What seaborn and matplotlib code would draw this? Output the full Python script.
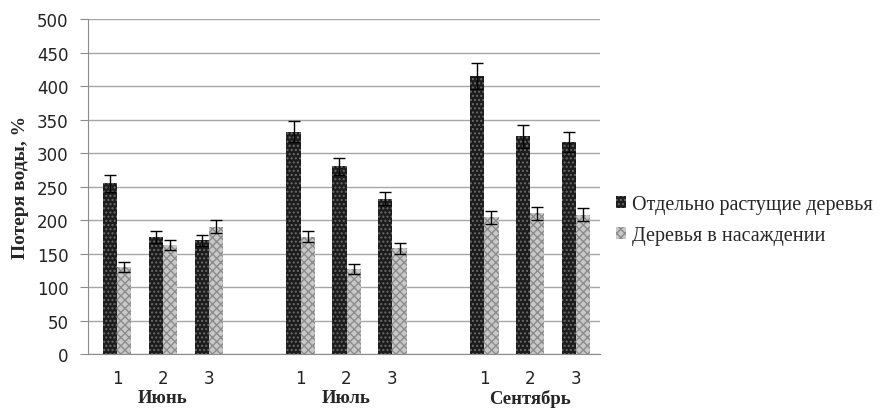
import pandas as pd
import seaborn as sns
import matplotlib.pyplot as plt
from matplotlib.transforms import blended_transform_factory

months = ["Июнь", "Июль", "Сентябрь"]
plots = ["1", "2", "3"]
series = ["Отдельно растущие деревья", "Деревья в насаждении"]

# values, month by month, plots 1-3
single_vals = [255, 175, 170, 332, 280, 232, 415, 325, 316]
single_err = [13, 9, 8, 16, 13, 10, 20, 17, 15]
stand_vals = [130, 163, 190, 175, 127, 158, 204, 210, 208]
stand_err = [7, 7, 10, 8, 8, 8, 10, 10, 10]

rows = []
for i, m in enumerate(months):
    for j, p in enumerate(plots):
        k = i * 3 + j
        rows.append([m + " " + p, series[0], single_vals[k], single_err[k]])
        rows.append([m + " " + p, series[1], stand_vals[k], stand_err[k]])
df = pd.DataFrame(rows, columns=["slot", "series", "value", "err"])

# empty slot between months
order = []
for i, m in enumerate(months):
    order += [m + " " + p for p in plots]
    if i < len(months) - 1:
        order.append("gap" + str(i))

sns.set_style("white")
plt.rcParams["font.family"] = ["DejaVu Sans"]
plt.rcParams["hatch.linewidth"] = 1.0

fig = plt.figure(figsize=(8.81, 4.10), dpi=100)
ax = fig.add_axes([0.1, 0.134, 0.581, 0.817])

sns.barplot(data=df, x="slot", y="value", hue="series", order=order,
            hue_order=series, width=0.62, gap=0, ax=ax, errorbar=None,
            palette=["#1c1c1c", "#c8c8c8"], saturation=1, legend=True)

hatches = ["....", "xxxx"]
hatch_cols = ["#6a6a6a", "#8c8c8c"]
for cont, h, hc in zip(ax.containers, hatches, hatch_cols):
    for bar in cont:
        bar.set_hatch(h)
        bar.set_edgecolor(hc)
        bar.set_linewidth(0)

# error bars on the drawn bars
labels = [o for o in order if not o.startswith("gap")]
for cont, s in zip(ax.containers, series):
    sub = df[df["series"] == s].set_index("slot")
    xs, ys, es = [], [], []
    for bar, lab in zip(cont, labels):
        xs.append(bar.get_x() + bar.get_width() / 2)
        ys.append(bar.get_height())
        es.append(sub.loc[lab, "err"])
    ax.errorbar(xs, ys, yerr=es, fmt="none", ecolor="black", elinewidth=1,
                capsize=4, capthick=1)

ax.set_ylim(0, 500)
ax.set_xlim(-0.63, 10.52)
ax.set_yticks(range(0, 501, 50))
ax.yaxis.grid(True, color="#a6a6a6", linewidth=1)
ax.set_axisbelow(True)
for sp in ["top", "right"]:
    ax.spines[sp].set_visible(False)
for sp in ["left", "bottom"]:
    ax.spines[sp].set_color("#8c8c8c")
ax.tick_params(axis="y", left=True, length=6, color="#8c8c8c",
               labelsize=12, pad=8, labelcolor="#222222")
ax.tick_params(axis="x", bottom=False, labelsize=12, pad=7, labelcolor="#222222")
ax.set_xticks(range(len(order)))
ax.set_xticklabels([o.split(" ")[-1] if not o.startswith("gap") else "" for o in order])
ax.set_xlabel("")
ax.set_ylabel("Потеря воды, %", family="Liberation Serif", fontweight="bold",
              fontsize=14, labelpad=6)

tr = blended_transform_factory(ax.transData, ax.transAxes)
for i, m in enumerate(months):
    ax.text(i * 4 + 1, -0.13, m, transform=tr, ha="center", va="center",
            family="Liberation Serif", fontweight="bold", fontsize=13.5)

leg = ax.legend(loc="center left", bbox_to_anchor=(0.995, 0.40), frameon=False,
                prop={"family": "Liberation Serif", "size": 14.5},
                handlelength=0.5, handleheight=0.5, handletextpad=0.3,
                labelspacing=0.6)
for hnd, h, hc in zip(leg.legend_handles, hatches, hatch_cols):
    hnd.set_hatch(h)
    hnd.set_edgecolor(hc)
    hnd.set_linewidth(0)

fig.savefig("out.png", dpi=100)
